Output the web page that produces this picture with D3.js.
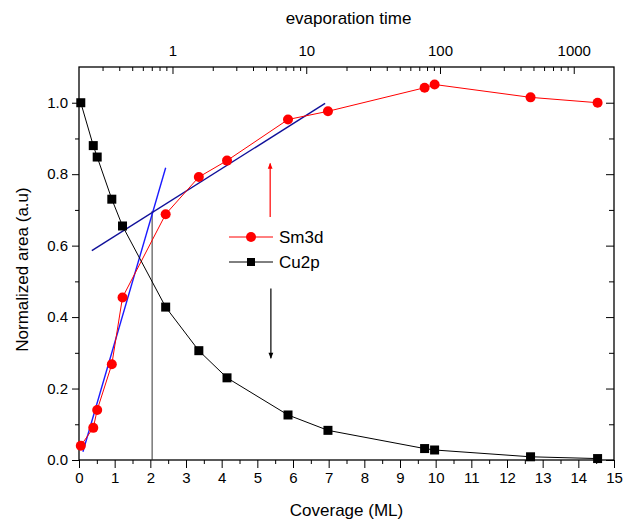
<!DOCTYPE html>
<html>
<head>
<meta charset="utf-8">
<script src="https://d3js.org/d3.v7.min.js"></script>
<style>
  body { margin: 0; background: #fff; }
  svg { font-family: "Liberation Sans", Arial, sans-serif; }
</style>
</head>
<body>
<div id="chart"></div>
<script>
// coverage (ML) for both series
var coverage = [0.05, 0.40, 0.51, 0.92, 1.22, 2.43, 3.36, 4.15, 5.86, 6.98, 9.69, 9.97, 12.66, 14.54];
var sm3d = [0.040, 0.090, 0.140, 0.268, 0.455, 0.688, 0.792, 0.838, 0.953, 0.976, 1.042, 1.051, 1.015, 1.000];
var cu2p = [1.000, 0.880, 0.848, 0.730, 0.655, 0.428, 0.306, 0.230, 0.126, 0.083, 0.032, 0.028, 0.009, 0.004];

// fit lines and guide
var fitSteep = [[0.11, 0.023], [2.43, 0.818]];
var fitFlat = [[0.36, 0.586], [6.90, 0.998]];
var guideX = 2.05, guideTop = 0.697;
var arrowUp = [[5.36, 0.68], [5.36, 0.83]];
var arrowDown = [[5.38, 0.48], [5.38, 0.285]];

var xTicks = d3.range(0, 16, 1);
var yTicks = [0.0, 0.2, 0.4, 0.6, 0.8, 1.0];
var topTicks = [1, 10, 100, 1000];

function display() {
	var width = 625, height = 526;
	var pl = 79, pr = 614, pt = 67, pb = 460;

	var svg = d3.select("#chart").append("svg")
		.attr("width", width)
		.attr("height", height);

	var x = d3.scaleLinear().domain([0, 15]).range([pl, pr]);
	var y = d3.scaleLinear().domain([0, 1.1]).range([pb, pt]);
	var xTop = d3.scaleLog().domain([0.2, 2000]).range([pl, pr]);

	function styleAxis(g) {
		g.select(".domain").remove();
		g.selectAll("line").attr("stroke", "#000").attr("stroke-width", 1);
		g.selectAll("text").attr("fill", "#000").style("font-size", "15px").attr("font-family", null);
	}

	// minor ticks first
	svg.append("g").attr("transform", "translate(0," + pb + ")")
		.call(d3.axisBottom(x).tickValues(d3.range(0.5, 15, 1)).tickSize(4).tickFormat(""))
		.call(styleAxis);
	svg.append("g").attr("transform", "translate(0," + pb + ")")
		.call(d3.axisBottom(x).tickValues(xTicks).tickSize(8).tickPadding(4).tickFormat(d3.format("d")))
		.call(styleAxis);

	svg.append("g").attr("transform", "translate(" + pl + ",0)")
		.call(d3.axisLeft(y).tickValues(d3.range(0.1, 1.1, 0.2)).tickSize(4).tickFormat(""))
		.call(styleAxis);
	svg.append("g").attr("transform", "translate(" + pl + ",0)")
		.call(d3.axisLeft(y).tickValues(yTicks).tickSize(7).tickPadding(4).tickFormat(d3.format(".1f")))
		.call(styleAxis);

	svg.append("g").attr("transform", "translate(" + pr + ",0)")
		.call(d3.axisRight(y).tickValues(d3.range(0.1, 1.1, 0.2)).tickSize(-5).tickFormat(""))
		.call(styleAxis);
	svg.append("g").attr("transform", "translate(" + pr + ",0)")
		.call(d3.axisRight(y).tickValues(yTicks).tickSize(-8).tickFormat(""))
		.call(styleAxis);

	// top log axis
	var minorTop = [];
	[0.1, 1, 10, 100, 1000].forEach(function(d) {
		for (var k = 2; k <= 9; k++) {
			var v = d * k;
			if (v > 0.2 && v < 2000) minorTop.push(v);
		}
	});
	svg.append("g").attr("transform", "translate(0," + pt + ")")
		.call(d3.axisTop(xTop).tickValues(minorTop).tickSize(-4).tickFormat(""))
		.call(styleAxis);
	svg.append("g").attr("transform", "translate(0," + pt + ")")
		.call(d3.axisTop(xTop).tickValues(topTicks).tickSize(-7).tickPadding(11).tickFormat(d3.format("d")))
		.call(styleAxis);

	// frame
	svg.append("rect")
		.attr("x", pl).attr("y", pt)
		.attr("width", pr - pl).attr("height", pb - pt)
		.attr("fill", "none").attr("stroke", "#000").attr("stroke-width", 1.3);

	// titles
	svg.append("text").attr("x", (pl + pr) / 2).attr("y", 516)
		.attr("text-anchor", "middle").style("font-size", "17px").text("Coverage (ML)");
	svg.append("text").attr("x", (pl + pr) / 2 + 2).attr("y", 24)
		.attr("text-anchor", "middle").style("font-size", "17px").text("evaporation time");
	svg.append("text")
		.attr("transform", "translate(28," + ((pt + pb) / 2 + 6) + ") rotate(-90)")
		.attr("text-anchor", "middle").style("font-size", "17px").text("Normalized area (a.u)");

	// guide line and fits
	svg.append("line")
		.attr("x1", x(guideX)).attr("x2", x(guideX))
		.attr("y1", y(0)).attr("y2", y(guideTop))
		.attr("stroke", "#333").attr("stroke-width", 1);

	var line = d3.line().x(function(d) { return x(d[0]); }).y(function(d) { return y(d[1]); });

	svg.append("path").datum(fitSteep).attr("d", line)
		.attr("fill", "none").attr("stroke", "#1a1aff").attr("stroke-width", 1.4);
	svg.append("path").datum(fitFlat).attr("d", line)
		.attr("fill", "none").attr("stroke", "#10109a").attr("stroke-width", 1.4);

	// series
	var smPts = coverage.map(function(c, i) { return [c, sm3d[i]]; });
	var cuPts = coverage.map(function(c, i) { return [c, cu2p[i]]; });

	svg.append("path").datum(smPts).attr("d", line)
		.attr("fill", "none").attr("stroke", "#ff0000").attr("stroke-width", 1);
	svg.append("path").datum(cuPts).attr("d", line)
		.attr("fill", "none").attr("stroke", "#000").attr("stroke-width", 1);

	svg.selectAll("circle.sm").data(smPts).enter().append("circle")
		.attr("class", "sm")
		.attr("cx", function(d) { return x(d[0]); })
		.attr("cy", function(d) { return y(d[1]); })
		.attr("r", 5).attr("fill", "#ff0000");

	svg.selectAll("rect.cu").data(cuPts).enter().append("rect")
		.attr("class", "cu")
		.attr("x", function(d) { return x(d[0]) - 4.5; })
		.attr("y", function(d) { return y(d[1]) - 4.5; })
		.attr("width", 9).attr("height", 9).attr("fill", "#000");

	// arrows
	var defs = svg.append("defs");
	[["red", "#ff0000"], ["blk", "#000"]].forEach(function(m) {
		defs.append("marker").attr("id", "ah-" + m[0])
			.attr("viewBox", "0 0 10 10").attr("refX", 9).attr("refY", 5)
			.attr("markerWidth", 10).attr("markerHeight", 6)
			.attr("orient", "auto").attr("markerUnits", "userSpaceOnUse")
			.append("path").attr("d", "M0,1 L10,5 L0,9 Z").attr("fill", m[1]);
	});
	svg.append("path").datum(arrowUp).attr("d", line)
		.attr("stroke", "#ff0000").attr("stroke-width", 1.2).attr("marker-end", "url(#ah-red)");
	svg.append("path").datum(arrowDown).attr("d", line)
		.attr("stroke", "#000").attr("stroke-width", 1.2).attr("marker-end", "url(#ah-blk)");

	// legend
	var legend = [
		{ name: "Sm3d", color: "#ff0000", shape: "circle", yy: 237 },
		{ name: "Cu2p", color: "#000", shape: "square", yy: 262 }
	];
	legend.forEach(function(l) {
		svg.append("line").attr("x1", 229).attr("x2", 273).attr("y1", l.yy).attr("y2", l.yy)
			.attr("stroke", l.color).attr("stroke-width", 1);
		if (l.shape === "circle") {
			svg.append("circle").attr("cx", 251).attr("cy", l.yy).attr("r", 5).attr("fill", l.color);
		} else {
			svg.append("rect").attr("x", 247).attr("y", l.yy - 4).attr("width", 8).attr("height", 8).attr("fill", l.color);
		}
		svg.append("text").attr("x", 279).attr("y", l.yy + 6).style("font-size", "17px").text(l.name);
	});
}

display();
</script>
</body>
</html>
